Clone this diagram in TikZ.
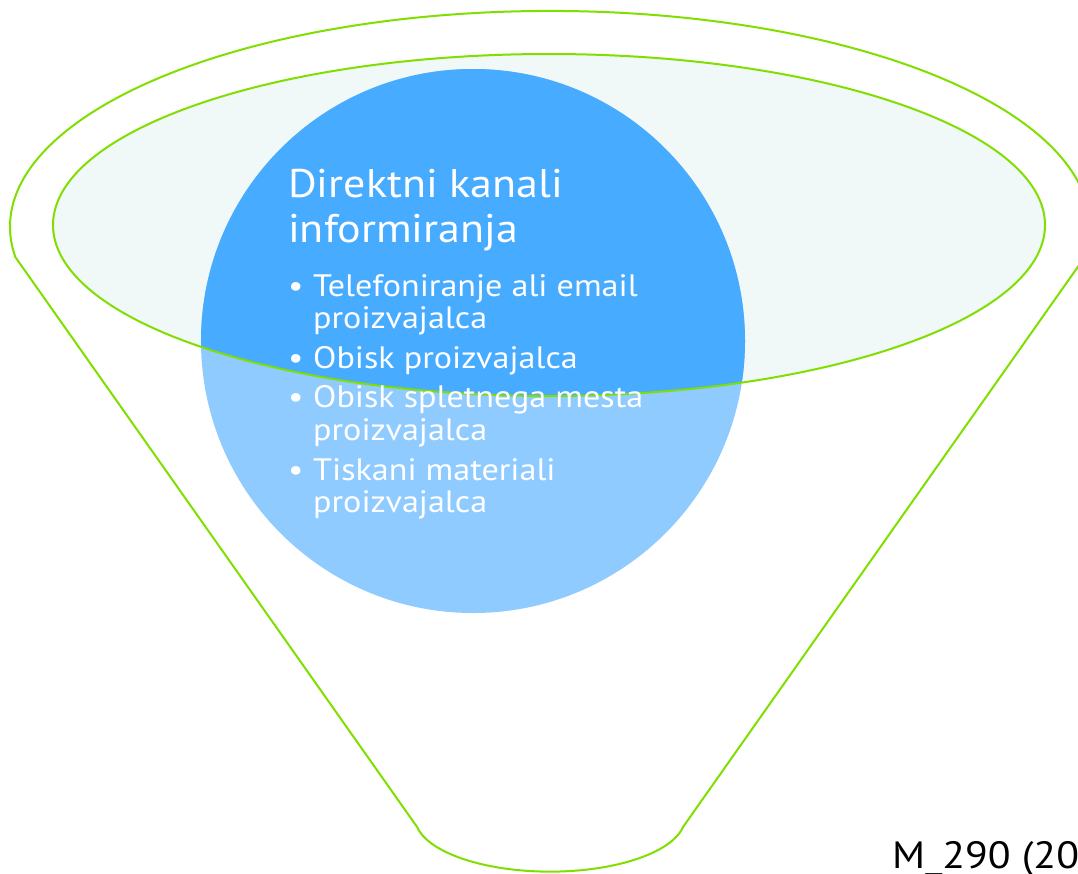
\documentclass[tikz,border=0pt]{standalone}
\usepackage{fontspec}
\setmainfont[FakeStretch=1.1]{PT Sans}

\definecolor{rimgreen}{RGB}{128,222,0}
\definecolor{palefill}{RGB}{240,248,248}
\definecolor{discdark}{RGB}{71,171,255}
\definecolor{disclight}{RGB}{143,203,255}

\begin{document}
\begin{tikzpicture}[x=1pt, y=-1pt]

\newlength{\rimw}
\setlength{\rimw}{2pt}

% frame, in pixels of the slide
\clip (0,0) rectangle (1078,873);
\useasboundingbox (0,0) rectangle (1078,873);

% styles
\pgfkeys{/rim/.style={draw=rimgreen, line width=\rimw}} % green outlines
\pgfkeys{/sieve/.style={fill=palefill}} % inner ellipse
\pgfkeys{/disc/.style={circle, inner sep=0, minimum size=544pt, fill=disclight}} % light part of circle
\pgfkeys{/txt/.style={text=white, anchor=base west, inner sep=0}} % base style for text
\pgfkeys{/head/.style={/txt, font=\fontsize{40}{40}\selectfont}} % title lines
\pgfkeys{/item/.style={/txt, font=\fontsize{31}{31}\selectfont}} % bullet lines

% corners of the funnel
\coordinate (tl) at (15.3,257);
\coordinate (br) at (683,827);
\coordinate (mid) at (549,225); % centre of inner ellipse

% outer funnel
\draw[/rim] (tl) arc[start angle=172, end angle=368, x radius=540, y radius=216]
  -- (br) arc[start angle=10, end angle=170, x radius=135, y radius=54] -- cycle;

% inner ellipse and circle
\path[/sieve] (mid) ellipse[x radius=496, y radius=171];
\node[/disc] (disc) at (473,341) {};
\begin{scope}
\clip (mid) ellipse[x radius=496, y radius=171];
\fill[discdark] (disc.center) circle (272);
\end{scope}
\draw[/rim] (mid) ellipse[x radius=496, y radius=171];

% title
\node[/head] (head1) at (288,197) {Direktni kanali};
\node[/head] (head2) at (288,242) {informiranja};

% bullets
\foreach \y/\t in {296/Telefoniranje ali email, 328/proizvajalca, 368/Obisk proizvajalca,
  407/Obisk spletnega mesta, 440/proizvajalca, 480/Tiskani materiali, 512/proizvajalca} {
\node[/item] (line\y) at (313,\y) {\t};
}
\foreach \y in {296,368,407,480} {
\node[/item] (dot\y) at (288,\y) {\textbullet}; % bullet sign
}

% source tag
\node[anchor=base west, inner sep=0, font=\fontsize{38}{38}\selectfont] (tag) at (892,868) {M\_290 (20};

\end{tikzpicture}
\end{document}
